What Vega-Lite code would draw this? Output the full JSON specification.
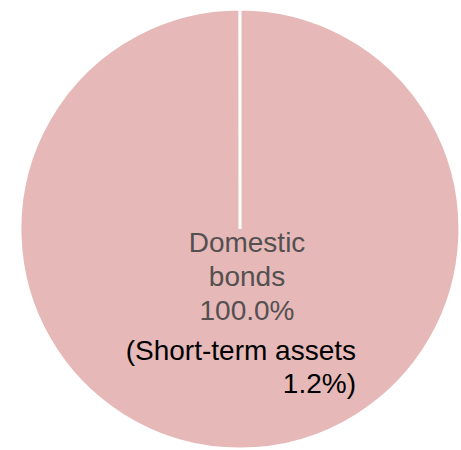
{
  "$schema": "https://vega.github.io/schema/vega-lite/v6.json",
  "autosize": "none",
  "width": 440,
  "height": 440,
  "padding": {"left": 20, "top": 9, "right": 1, "bottom": 1},
  "background": "white",
  "config": {"view": {"stroke": null}},
  "data": {
    "values": [
      {"category": "Domestic bonds", "share": 100.0, "label": "Domestic\nbonds\n100.0%", "note": "(Short-term assets\n1.2%)", "note_share": 1.2}
    ]
  },
  "layer": [
    {
      "mark": {"type": "arc", "fill": "#E6B9B8", "stroke": "white", "strokeWidth": 3},
      "encoding": {
        "theta": {"field": "share", "type": "quantitative", "scale": {"domain": [0, 100], "range": [0, 6.2824]}}
      }
    },
    {
      "mark": {"type": "text", "lineBreak": "\n", "align": "center", "baseline": "alphabetic", "fontSize": 28, "font": "Liberation Sans", "color": "#555050", "lineHeight": 34, "dx": 7, "dy": 23},
      "encoding": {"text": {"field": "label", "type": "nominal"}}
    },
    {
      "mark": {"type": "text", "lineBreak": "\n", "align": "right", "baseline": "alphabetic", "fontSize": 28, "font": "Liberation Sans", "color": "#000000", "lineHeight": 33, "dx": 116, "dy": 131},
      "encoding": {"text": {"field": "note", "type": "nominal"}}
    }
  ]
}
